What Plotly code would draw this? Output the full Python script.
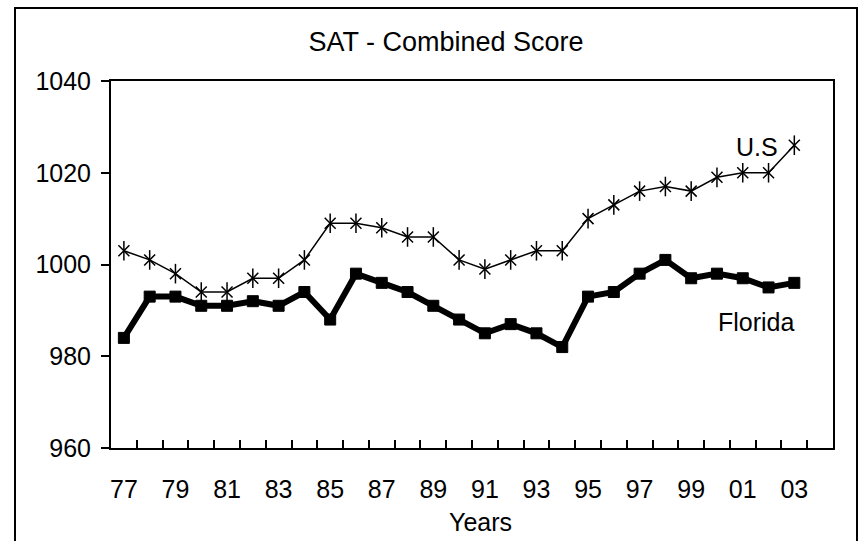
import plotly.graph_objects as go

# 年份与两条折线的数据
years = [1977, 1978, 1979, 1980, 1981, 1982, 1983, 1984, 1985, 1986,
         1987, 1988, 1989, 1990, 1991, 1992, 1993, 1994, 1995, 1996,
         1997, 1998, 1999, 2000, 2001, 2002, 2003]
us_scores = [1003, 1001, 998, 994, 994, 997, 997, 1001, 1009, 1009,
             1008, 1006, 1006, 1001, 999, 1001, 1003, 1003, 1010, 1013,
             1016, 1017, 1016, 1019, 1020, 1020, 1026]
florida_scores = [984, 993, 993, 991, 991, 992, 991, 994, 988, 998,
                  996, 994, 991, 988, 985, 987, 985, 982, 993, 994,
                  998, 1001, 997, 998, 997, 995, 996]

# 坐标轴刻度
label_years = [1977, 1979, 1981, 1983, 1985, 1987, 1989, 1991, 1993,
               1995, 1997, 1999, 2001, 2003]
label_text = ["77", "79", "81", "83", "85", "87", "89", "91", "93",
              "95", "97", "99", "01", "03"]
boundary_ticks = [y + 0.5 for y in years]
y_ticks = [960, 980, 1000, 1020, 1040]

FONT = "Liberation Sans, Arial, sans-serif"

fig = go.Figure()

# Florida：粗线 + 方块
fig.add_trace(go.Scatter(
    x=years, y=florida_scores, mode="lines+markers", name="Florida",
    line=dict(color="black", width=6),
    marker=dict(symbol="square", size=11, color="black",
                line=dict(color="black", width=1)),
))

# U.S：细线 + 星形（X 加竖线）
fig.add_trace(go.Scatter(
    x=years, y=us_scores, mode="lines+markers", name="U.S",
    line=dict(color="black", width=1.5),
    marker=dict(symbol="x-thin-open", size=11, color="black",
                line=dict(color="black", width=1.5)),
))
fig.add_trace(go.Scatter(
    x=years, y=us_scores, mode="markers", name="U.S",
    marker=dict(symbol="line-ns-open", size=14, color="black",
                line=dict(color="black", width=1.5)),
))

fig.update_layout(
    width=865, height=541,
    margin=dict(l=111, r=32, t=81, b=93),
    paper_bgcolor="white", plot_bgcolor="white",
    showlegend=False,
    font=dict(family=FONT, size=25, color="black"),
    title=dict(text="SAT - Combined Score", x=446 / 865, y=1 - 42 / 541,
               xanchor="center", yanchor="middle", xref="container",
               yref="container", font=dict(size=27)),
)

fig.update_xaxes(
    range=[1976.5, 2004.5], showgrid=False, zeroline=False,
    showline=True, linecolor="black", linewidth=2, mirror=True,
    tickmode="array", tickvals=label_years, ticktext=label_text,
    ticks="", ticklabelstandoff=18,
    minor=dict(tickmode="array", tickvals=boundary_ticks, ticks="inside",
               ticklen=8, tickwidth=2, tickcolor="black"),
)
fig.update_yaxes(
    range=[960, 1040], showgrid=False, zeroline=False,
    showline=True, linecolor="black", linewidth=2, mirror=True,
    tickmode="array", tickvals=y_ticks,
    ticks="outside", ticklen=8, tickwidth=2, tickcolor="black",
    ticklabelstandoff=5,
)

# 系列标签与坐标轴标题
fig.add_annotation(x=2001.55, y=1025.6, text="U.S", showarrow=False,
                   xanchor="center", yanchor="middle")
fig.add_annotation(x=2001.55, y=987.5, text="Florida", showarrow=False,
                   xanchor="center", yanchor="middle")
fig.add_annotation(x=(480 - 111) / 722, y=(448 - 522) / 367, xref="paper",
                   yref="paper", text="Years", showarrow=False,
                   xanchor="center", yanchor="middle")

# 外框
fig.add_shape(type="rect", xref="paper", yref="paper",
              x0=(15 - 111) / 722, x1=(857 - 111) / 722,
              y0=-0.4, y1=(448 - 8) / 367,
              line=dict(color="black", width=2), fillcolor="rgba(0,0,0,0)",
              layer="below")

# 去掉页面默认边距和工具栏
fig.write_html("out.html", config={"displayModeBar": False},
               post_script="document.body.style.margin='0';")
